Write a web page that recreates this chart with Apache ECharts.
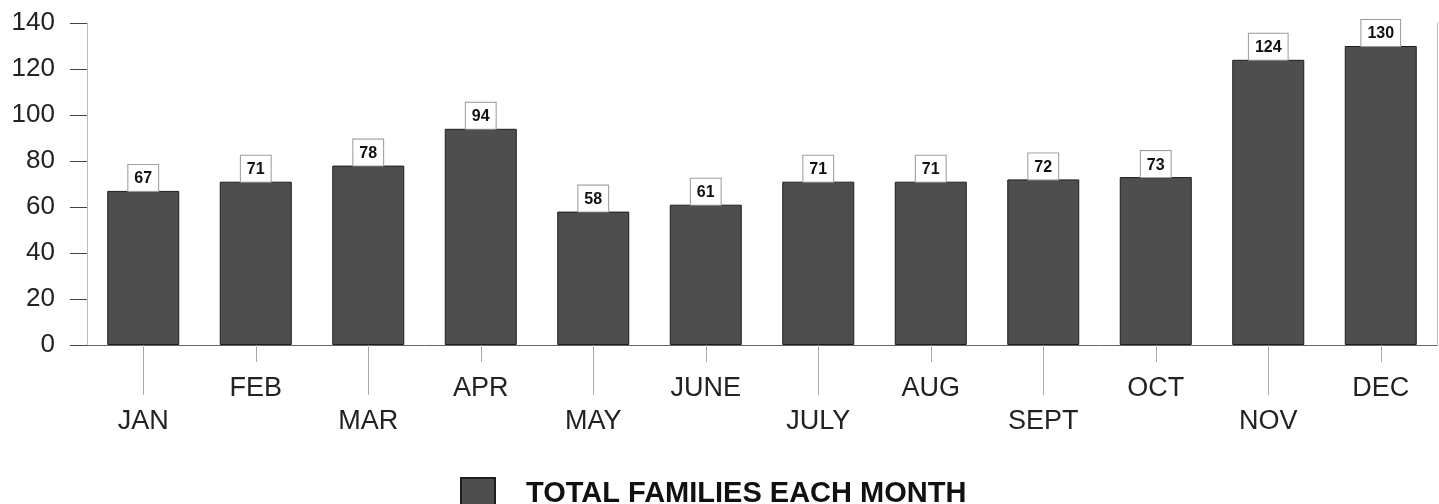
<!DOCTYPE html>
<html>
<head>
<meta charset="utf-8">
<script src="https://cdn.jsdelivr.net/npm/echarts@6/dist/echarts.min.js"></script>
<style>
  html, body { margin: 0; padding: 0; background: #fff; }
  #main { width: 1439px; height: 504px; }
</style>
</head>
<body>
<div id="main"></div>
<script>
var months = ['JAN', 'FEB', 'MAR', 'APR', 'MAY', 'JUNE', 'JULY', 'AUG', 'SEPT', 'OCT', 'NOV', 'DEC'];
var families = [67, 71, 78, 94, 58, 61, 71, 71, 72, 73, 124, 130];
var seriesName = 'TOTAL FAMILIES EACH MONTH';

var font = 'Liberation Sans, Arial, sans-serif';
var myChart = echarts.init(document.getElementById('main'));

// low labels on even months, high labels on odd months
function isLow(i) { return i % 2 === 0; }
function isHigh(i) { return i % 2 === 1; }

myChart.setOption({
    animation: false,
    grid: { left: 87, right: 2, top: 23, bottom: 159 },
    legend: {
        data: [{ name: seriesName, icon: 'rect' }],
        left: 455,
        top: 472,
        itemWidth: 34,
        itemHeight: 32,
        textStyle: { fontFamily: font, fontSize: 29, fontWeight: 'bold', color: '#111', padding: [0, 0, 0, 26] }
    },
    xAxis: [{
        type: 'category',
        data: months,
        position: 'bottom',
        axisLine: { lineStyle: { color: '#666', width: 1 } },
        axisTick: { show: true, alignWithLabel: true, length: 50, interval: isLow, lineStyle: { color: '#aaa' } },
        axisLabel: { interval: isLow, margin: 63, fontFamily: font, fontSize: 27, color: '#222' }
    }, {
        type: 'category',
        data: months,
        position: 'bottom',
        axisLine: { show: false },
        axisTick: { show: true, alignWithLabel: true, length: 17, interval: isHigh, lineStyle: { color: '#aaa' } },
        axisLabel: { interval: isHigh, margin: 30, fontFamily: font, fontSize: 27, color: '#222' }
    }],
    yAxis: [{
        type: 'value',
        min: 0,
        max: 140,
        interval: 20,
        axisLine: { show: true, lineStyle: { color: '#bbb' } },
        axisTick: { show: true, length: 17, lineStyle: { color: '#444' } },
        axisLabel: { margin: 32, fontFamily: font, fontSize: 26, color: '#222' },
        splitLine: { show: false }
    }, {
        type: 'value',
        min: 0,
        max: 140,
        position: 'right',
        axisLine: { show: true, lineStyle: { color: '#bbb' } },
        axisTick: { show: false },
        axisLabel: { show: false },
        splitLine: { show: false }
    }],
    series: [{
        name: seriesName,
        type: 'bar',
        xAxisIndex: 0,
        yAxisIndex: 0,
        data: families,
        barCategoryGap: '36%',
        itemStyle: { color: '#4e4e4e', borderColor: '#1e1e1e', borderWidth: 1 },
        label: {
            show: true,
            position: 'top',
            distance: 0,
            fontFamily: font,
            fontSize: 16,
            fontWeight: 'bold',
            color: '#111',
            backgroundColor: '#fff',
            borderColor: '#999',
            borderWidth: 1,
            padding: [6, 6, 4, 6]
        }
    }]
});
</script>
</body>
</html>
